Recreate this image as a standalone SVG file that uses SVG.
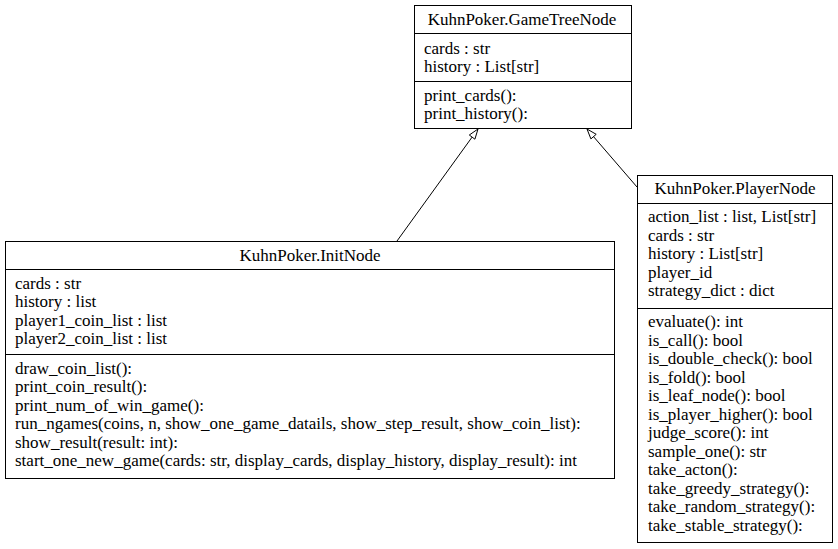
<svg xmlns="http://www.w3.org/2000/svg" width="838" height="549" viewBox="0 0 838 549">
<style>
.box{fill:#fff;stroke:#000;stroke-width:1}
.sep{stroke:#000;stroke-width:1}
.t{text-anchor:middle}
.edge{fill:none;stroke:#000;stroke-width:1}
.head{fill:#fff;stroke:#000;stroke-width:1}
</style>
<rect width="838" height="549" fill="#fff"/>
<g id="connectors">
<line class="edge" x1="397" y1="241" x2="472.1" y2="137.1"/>
<polygon class="head" points="478,129 474.9,139.2 469.3,135"/>
<line class="edge" x1="637" y1="187" x2="593.5" y2="136.6"/>
<polygon class="head" points="587,129 596.2,134.3 590.9,138.9"/>
</g>
<g font-family="Liberation Serif" font-size="17">
<g id="GameTreeNode">
<rect class="box" x="414.5" y="5.5" width="217" height="123"/>
<line class="sep" x1="414.5" y1="33.5" x2="631.5" y2="33.5"/>
<line class="sep" x1="414.5" y1="81.5" x2="631.5" y2="81.5"/>
<text class="t" x="522" y="25">KuhnPoker.GameTreeNode</text>
<text x="424" y="53.5">cards : str</text>
<text x="424" y="72">history : List[str]</text>
<text x="424" y="100.5">print_cards():</text>
<text x="424" y="119">print_history():</text>
</g>
<g id="InitNode">
<rect class="box" x="5.5" y="241.5" width="609" height="237"/>
<line class="sep" x1="5.5" y1="269.5" x2="614.5" y2="269.5"/>
<line class="sep" x1="5.5" y1="354.5" x2="614.5" y2="354.5"/>
<text class="t" x="310" y="261">KuhnPoker.InitNode</text>
<text x="15" y="288.5">cards : str</text>
<text x="15" y="307">history : list</text>
<text x="15" y="325.5">player1_coin_list : list</text>
<text x="15" y="344">player2_coin_list : list</text>
<text x="15" y="373.5">draw_coin_list():</text>
<text x="15" y="392">print_coin_result():</text>
<text x="15" y="410.5">print_num_of_win_game():</text>
<text x="15" y="429">run_ngames(coins, n, show_one_game_datails, show_step_result, show_coin_list):</text>
<text x="15" y="447.5">show_result(result: int):</text>
<text x="15" y="466">start_one_new_game(cards: str, display_cards, display_history, display_result): int</text>
</g>
<g id="PlayerNode">
<rect class="box" x="637.5" y="175.5" width="195" height="367"/>
<line class="sep" x1="637.5" y1="203.5" x2="832.5" y2="203.5"/>
<line class="sep" x1="637.5" y1="308.5" x2="832.5" y2="308.5"/>
<text class="t" x="735" y="194">KuhnPoker.PlayerNode</text>
<text x="648" y="222">action_list : list, List[str]</text>
<text x="648" y="240.5">cards : str</text>
<text x="648" y="259">history : List[str]</text>
<text x="648" y="277.5">player_id</text>
<text x="648" y="296">strategy_dict : dict</text>
<text x="648" y="327">evaluate(): int</text>
<text x="648" y="345.5">is_call(): bool</text>
<text x="648" y="364">is_double_check(): bool</text>
<text x="648" y="382.5">is_fold(): bool</text>
<text x="648" y="401">is_leaf_node(): bool</text>
<text x="648" y="419.5">is_player_higher(): bool</text>
<text x="648" y="438">judge_score(): int</text>
<text x="648" y="456.5">sample_one(): str</text>
<text x="648" y="475">take_acton():</text>
<text x="648" y="493.5">take_greedy_strategy():</text>
<text x="648" y="512">take_random_strategy():</text>
<text x="648" y="530.5">take_stable_strategy():</text>
</g>
</g>
</svg>
